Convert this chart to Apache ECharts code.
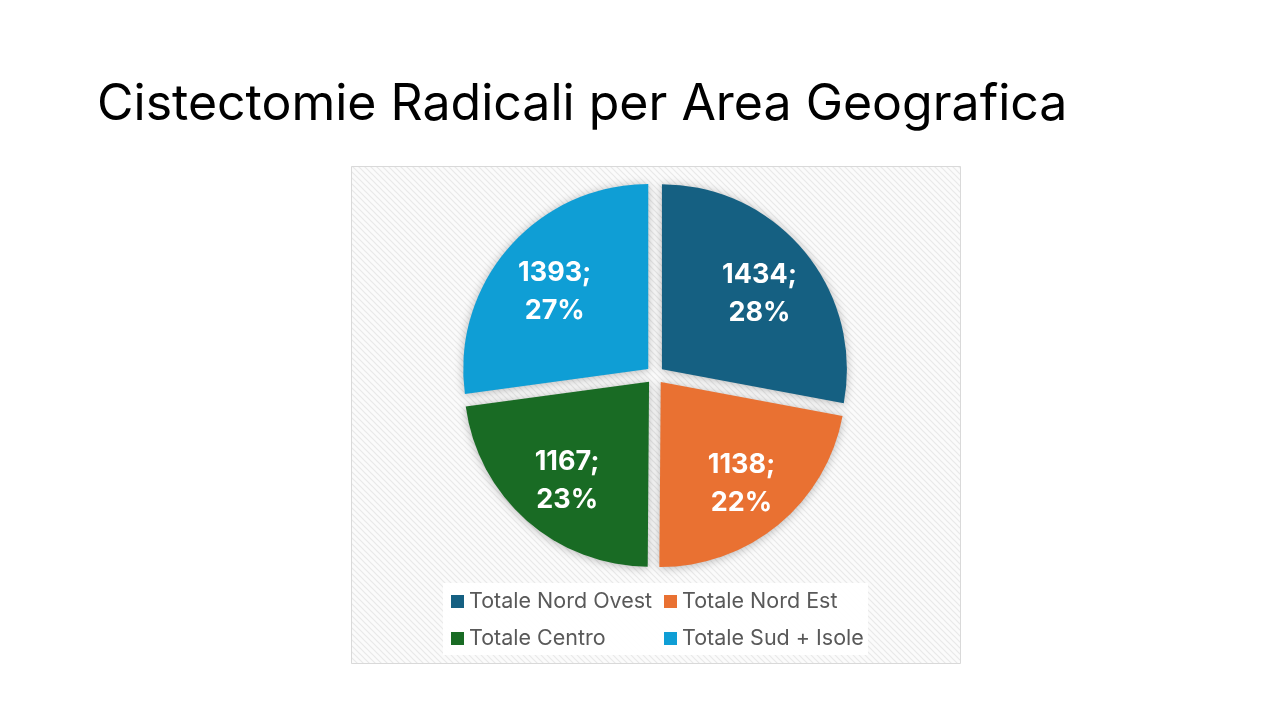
<!DOCTYPE html>
<html>
<head>
<meta charset="utf-8">
<script src="https://cdn.jsdelivr.net/npm/echarts@6/dist/echarts.min.js"></script>
<style>
html,body{margin:0;padding:0;background:#fff;}
#chart{width:1280px;height:720px;}
</style>
</head>
<body>
<div id="chart"></div>
<script>
const titleText = 'Cistectomie Radicali per Area Geografica';
const categories = ['Totale Nord Ovest', 'Totale Nord Est', 'Totale Centro', 'Totale Sud + Isole'];
const values = [1434, 1138, 1167, 1393];
const colors = ['#156082', '#E97132', '#196B24', '#0F9ED5'];
const legendCol1 = ['Totale Nord Ovest', 'Totale Centro'];
const legendCol2 = ['Totale Nord Est', 'Totale Sud + Isole'];

// hatched background pattern
const pc = document.createElement('canvas');
pc.width = 6; pc.height = 6;
const pctx = pc.getContext('2d');
pctx.fillStyle = '#FBFBFB';
pctx.fillRect(0, 0, 6, 6);
pctx.strokeStyle = '#E9E9E9';
pctx.lineWidth = 1.2;
pctx.beginPath();
pctx.moveTo(-1, -1); pctx.lineTo(7, 7);
pctx.moveTo(-7, -1); pctx.lineTo(1, 7);
pctx.moveTo(5, -1); pctx.lineTo(13, 7);
pctx.stroke();

const font = 'Inter, "Open Sans", "Liberation Sans", Arial, sans-serif';
const data = categories.map((n, i) => ({ name: n, value: values[i], selected: true, itemStyle: { color: colors[i] } }));
const labelData = categories.map((n, i) => ({ name: n, value: values[i], selected: true }));

const chart = echarts.init(document.getElementById('chart'), null, { renderer: 'canvas' });
chart.setOption({
  animation: false,
  backgroundColor: '#ffffff',
  title: {
    text: titleText,
    left: 92, top: 75,
    textStyle: { fontFamily: font, fontSize: 50, fontWeight: 'normal', color: '#000000' }
  },
  graphic: [
    { type: 'rect', z: -10, shape: { x: 351.5, y: 166.5, width: 609, height: 497 },
      style: { fill: { image: pc, repeat: 'repeat' }, stroke: '#D9D9D9', lineWidth: 1 } },
    { type: 'rect', z: -5, shape: { x: 443, y: 583, width: 425, height: 72 },
      style: { fill: 'rgba(255,255,255,0.92)' } }
  ],
  legend: [
    { data: legendCol1, orient: 'vertical', left: 451, top: 589, padding: 0, itemWidth: 13, itemHeight: 13, itemGap: 12,
      icon: 'rect', selectedMode: false,
      textStyle: { fontFamily: font, fontSize: 21.5, color: '#595959', lineHeight: 25 } },
    { data: legendCol2, orient: 'vertical', left: 664, top: 589, padding: 0, itemWidth: 13, itemHeight: 13, itemGap: 12,
      icon: 'rect', selectedMode: false,
      textStyle: { fontFamily: font, fontSize: 21.5, color: '#595959', lineHeight: 25 } }
  ],
  series: [
    {
      type: 'pie', name: 'main', center: [655, 375], radius: [0, 185],
      startAngle: 90, clockwise: true, selectedMode: 'multiple', selectedOffset: 9,
      itemStyle: { shadowBlur: 10, shadowColor: 'rgba(0,0,0,0.28)', shadowOffsetY: 1 },
      label: { show: false }, labelLine: { show: false },
      emphasis: { disabled: true },
      data: data
    },
    {
      type: 'pie', name: 'labels', center: [656, 380], radius: [60, 185],
      startAngle: 90, clockwise: true, selectedMode: 'multiple', selectedOffset: 9,
      silent: true, percentPrecision: 0,
      itemStyle: { color: 'rgba(0,0,0,0)' },
      label: { show: true, position: 'inside', formatter: '{c};\n{d}%',
        fontFamily: font, fontSize: 27, fontWeight: 'bold', color: '#ffffff', lineHeight: 38 },
      labelLine: { show: false },
      emphasis: { disabled: true },
      data: labelData
    }
  ]
});
</script>
</body>
</html>
